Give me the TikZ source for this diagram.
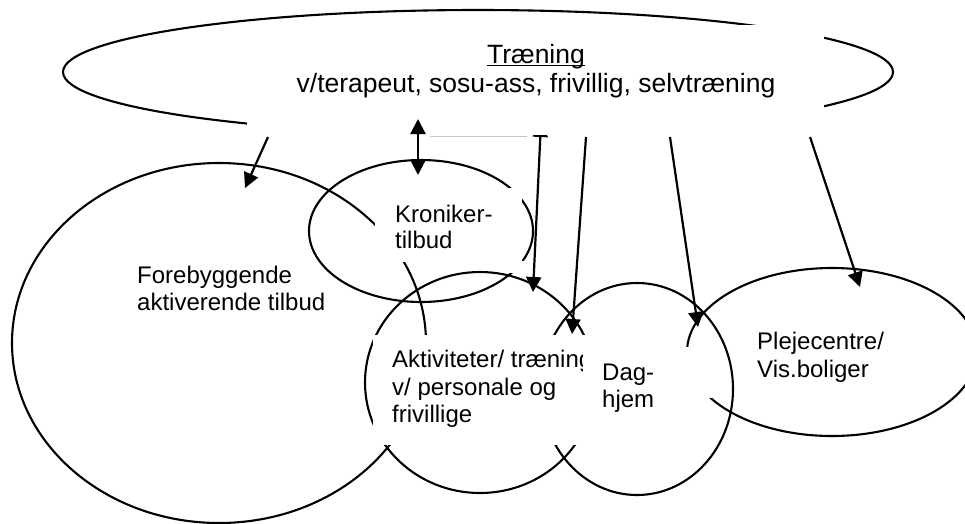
\documentclass[tikz,border=0pt]{standalone}
\usepackage{fontspec}
\setmainfont{Liberation Sans}
\usetikzlibrary{shapes.geometric,arrows.meta,calc}
\begin{document}
\begin{tikzpicture}[x=1pt,y=-1pt,
  oval/.style={draw, ellipse, line width=2.1pt, inner sep=0pt, outer sep=0pt},
  whitebox/.style={fill=white, draw=none},
  lbl/.style={anchor=base west, inner sep=0pt, font=\fontsize{24}{27.6}\selectfont},
  title/.style={anchor=base, inner sep=0pt, font=\fontsize{26.5}{30}\selectfont},
  arr/.style={line width=2.2pt, -{Triangle[length=15pt,width=15pt]}},
  dblarr/.style={line width=2.2pt, {Triangle[length=15pt,width=15pt]}-{Triangle[length=15pt,width=15pt]}},
]
\useasboundingbox (0,0) rectangle (965,523);
\clip (0,0) rectangle (965,523);

% ellipses
\node[oval, minimum width=830pt, minimum height=124pt] (top) at (478,72) {};
\node[oval, minimum width=414pt, minimum height=360pt] (fore) at (219,343) {};
\node[oval, minimum width=224pt, minimum height=142pt] (kron) at (421,231) {};
\node[oval, minimum width=230pt, minimum height=221pt] (akt) at (480,382.5) {};
\node[oval, minimum width=192pt, minimum height=212pt] (dag) at (637,389) {};
\node[oval, minimum width=290pt, minimum height=168pt] (pleje) at (832,352) {};

% white text boxes that hide parts of the outlines
\fill[whitebox] (247,25) rectangle (824,136);
\fill[whitebox] (375,188) rectangle (522,262);
\fill[whitebox] (508,261) rectangle (526,273);
\fill[whitebox] (373,335) rectangle (600,445);
\fill[whitebox] (590,347) rectangle (712,398);

% texts
\node[title] (tr) at (536,63) {Træning};
\draw[line width=1.5pt] ($(tr.base west)+(0,2.5)$) -- ($(tr.base east)+(0,2.5)$);
\node[title] (tr2) at (536,92) {v/terapeut, sosu-ass, frivillig, selvtræning};

\node[lbl] (k1) at (395,222) {Kroniker-};
\node[lbl] (k2) at (395,248) {tilbud};
\node[lbl] (f1) at (137,283) {Forebyggende};
\node[lbl] (f2) at (137,310) {aktiverende tilbud};
\begin{scope}
  \clip (373,335) rectangle (582,445);
  \node[lbl] (a1) at (392,367) {Aktiviteter/ træning};
\end{scope}
\node[lbl] (a2) at (392,395) {v/ personale og};
\node[lbl] (a3) at (392,422) {frivillige};
\node[lbl] (d1) at (602,380) {Dag-};
\node[lbl] (d2) at (602,407) {hjem};
\node[lbl] (p1) at (757,349) {Plejecentre/};
\node[lbl] (p2) at (757,377) {Vis.boliger};

% faint edge of the top text box
\coordinate (g1) at (430,136);
\coordinate (g2) at (527,136);
\draw[black!22, line width=0.8pt] (g1) -- (g2);

% connectors
\coordinate (s1) at (268,137); \coordinate (e1) at (245,188);
\coordinate (s2) at (418,119); \coordinate (e2) at (418,175);
\coordinate (s3) at (541,122); \coordinate (e3) at (533,292);
\coordinate (s4) at (586,137); \coordinate (e4) at (572,334);
\coordinate (s5) at (670,137); \coordinate (e5) at (698,327);
\coordinate (s6) at (810,137); \coordinate (e6) at (860,287);

\draw[arr] (s1) -- (e1);
\draw[dblarr] (s2) -- (e2);
\begin{scope}
  \clip (0,135) rectangle (965,523);
  \draw[dblarr] (s3) -- (e3);
\end{scope}
\draw[arr] (s4) -- (e4);
\draw[arr] (s5) -- (e5);
\draw[arr] (s6) -- (e6);
\end{tikzpicture}
\end{document}
